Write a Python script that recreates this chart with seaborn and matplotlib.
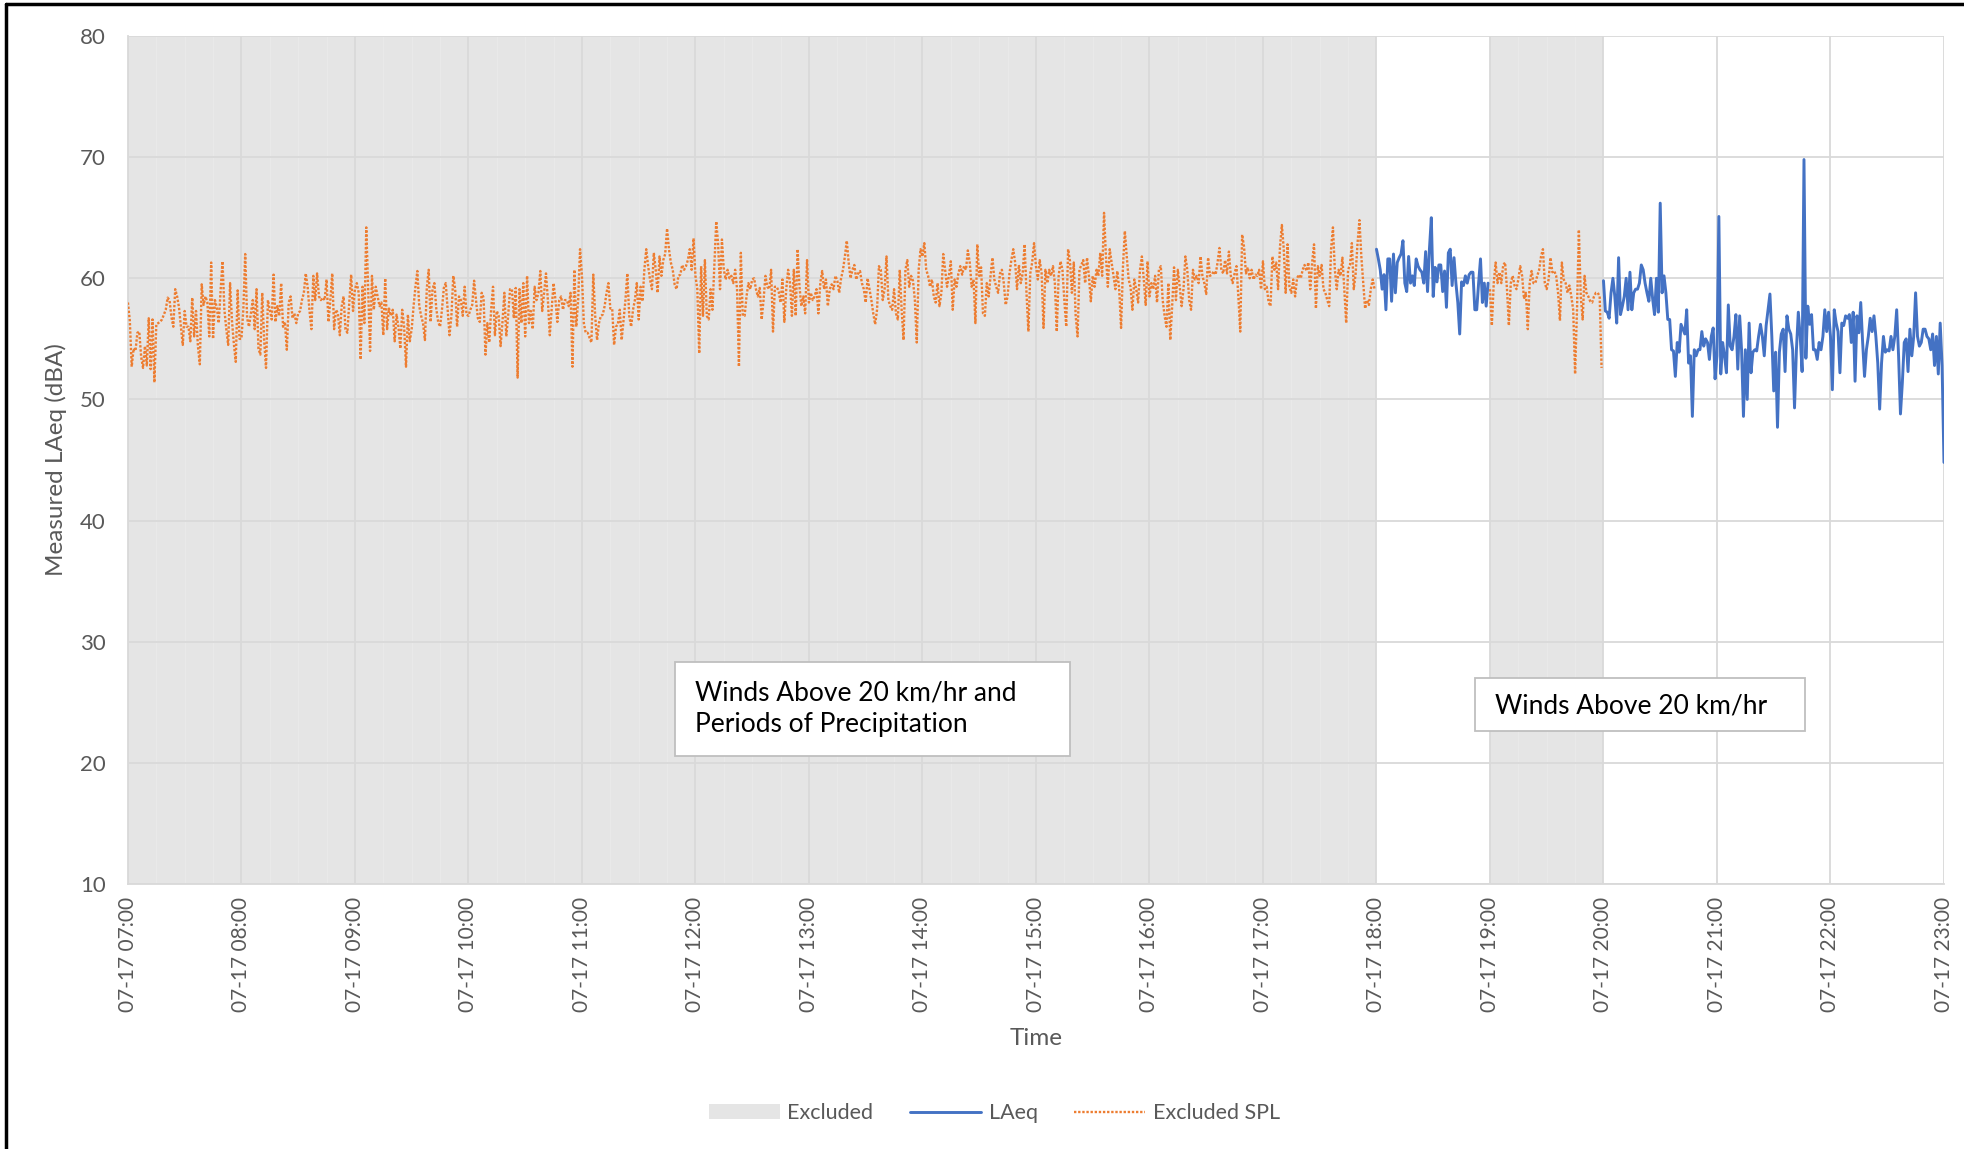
import pandas as pd
import matplotlib
matplotlib.use("Agg")
import matplotlib.pyplot as plt
import matplotlib.dates as mdates
from matplotlib.patches import Patch, Rectangle
from matplotlib.lines import Line2D
import seaborn as sns

sns.set_theme(style="white")
plt.rcParams['font.family'] = ['Lato', 'DejaVu Sans']

DAY = "2023-07-17"

# ---- Excluded SPL (orange dotted), 1-minute values ----
spl_07 = [58.0, 56.5, 52.7, 54.2, 54.0, 55.5, 55.6, 53.5, 52.6, 54.4,
          52.8, 56.7, 52.5, 56.6, 51.4, 56.2, 56.3, 56.4, 56.6, 57.0,
          57.4, 58.4, 58.2, 56.8, 56.0, 59.1, 58.5, 57.6, 56.0, 54.5,
          57.3, 56.0, 56.0, 54.8, 58.4, 55.2, 57.3, 54.4, 52.9, 59.5,
          57.8, 58.5, 58.0, 55.2, 61.3, 55.0, 58.2, 57.6, 56.3, 59.0,
          61.4, 57.4, 55.8, 54.5, 59.6, 56.5, 54.6, 53.1, 59.0, 55.0]
spl_08 = [55.0, 57.4, 62.0, 56.7, 56.0, 57.1, 58.2, 55.8, 59.1, 54.2,
          53.7, 58.8, 54.9, 52.6, 58.2, 57.4, 56.6, 60.3, 56.4, 57.7,
          56.9, 59.6, 56.0, 56.4, 54.1, 58.0, 58.5, 56.7, 57.1, 56.3,
          57.1, 57.3, 58.2, 58.8, 60.4, 59.3, 57.3, 55.8, 60.2, 58.2,
          60.4, 58.5, 58.2, 58.4, 58.2, 59.9, 56.4, 58.2, 60.4, 55.8,
          57.4, 57.1, 55.3, 57.7, 58.5, 55.8, 55.5, 58.0, 60.3, 57.3]
spl_09 = [59.1, 59.6, 58.8, 53.3, 59.3, 56.3, 64.2, 59.1, 54.0, 60.2,
          57.4, 59.3, 58.5, 57.7, 58.0, 55.3, 60.0, 55.8, 57.5, 56.9,
          57.4, 54.8, 57.0, 56.0, 54.2, 57.4, 56.0, 52.7, 57.0, 54.8,
          55.8, 57.7, 59.3, 60.6, 57.7, 56.9, 56.3, 54.9, 59.2, 60.7,
          56.4, 59.1, 59.6, 57.5, 56.4, 56.0, 57.4, 59.2, 59.6, 57.4,
          55.3, 56.9, 60.2, 59.1, 56.0, 58.5, 58.2, 56.9, 59.3, 57.0]
spl_10 = [56.9, 57.4, 57.8, 59.8, 58.2, 56.7, 56.4, 58.8, 58.4, 53.7,
          56.3, 54.7, 57.4, 59.3, 55.3, 57.3, 56.9, 54.4, 56.4, 58.8,
          55.2, 56.9, 59.1, 59.1, 56.7, 59.2, 51.8, 59.1, 56.3, 59.6,
          55.2, 60.2, 56.3, 57.3, 55.8, 59.3, 58.2, 58.8, 60.6, 57.3,
          58.8, 60.4, 58.2, 55.3, 57.4, 59.6, 58.2, 56.4, 58.2, 58.5,
          57.4, 58.2, 58.2, 57.7, 58.8, 52.7, 60.7, 56.0, 58.2, 62.4]
spl_11 = [60.2, 56.3, 55.5, 55.5, 55.1, 54.7, 60.3, 56.9, 54.9, 56.3,
          56.9, 57.0, 57.7, 58.8, 59.6, 57.5, 57.5, 54.5, 56.0, 56.2,
          57.4, 54.9, 56.6, 58.2, 60.4, 56.9, 56.0, 57.4, 58.2, 59.6,
          56.6, 59.3, 58.1, 60.7, 62.4, 61.0, 59.9, 59.1, 62.1, 60.7,
          58.8, 61.8, 60.2, 61.5, 62.0, 64.1, 62.4, 61.3, 60.7, 59.5,
          59.1, 60.2, 60.3, 61.1, 60.7, 61.0, 61.5, 62.4, 60.7, 63.3]
spl_12 = [60.2, 59.1, 53.8, 61.0, 56.9, 61.5, 56.9, 56.6, 59.1, 57.4,
          61.0, 64.7, 62.8, 59.1, 63.2, 60.7, 59.9, 60.7, 60.0, 60.2,
          59.6, 60.7, 59.1, 52.7, 62.1, 56.9, 56.9, 58.5, 59.6, 59.1,
          59.9, 60.0, 59.1, 58.5, 59.2, 56.6, 58.2, 60.2, 59.3, 59.1,
          60.7, 55.6, 59.3, 59.3, 58.9, 58.0, 59.9, 56.4, 59.1, 60.7,
          59.6, 56.9, 60.7, 56.9, 62.4, 59.3, 57.7, 58.5, 57.1, 61.5]
spl_13 = [58.0, 58.8, 58.2, 58.5, 59.1, 57.1, 59.6, 60.6, 59.1, 59.9,
          57.7, 59.1, 59.5, 59.1, 60.2, 59.8, 58.8, 60.0, 60.7, 61.8,
          63.1, 61.3, 60.0, 60.7, 61.1, 59.9, 60.4, 60.6, 59.6, 59.1,
          58.0, 60.0, 59.1, 58.2, 57.1, 56.2, 57.4, 61.0, 60.7, 58.2,
          59.1, 61.8, 58.2, 57.7, 57.4, 59.1, 57.1, 56.6, 60.7, 57.4,
          54.9, 60.7, 61.5, 59.3, 60.2, 59.8, 58.2, 54.7, 60.7, 62.4]
spl_14 = [61.8, 62.9, 60.7, 60.2, 59.3, 59.9, 58.5, 58.0, 59.6, 57.7,
          58.8, 62.0, 60.7, 59.3, 60.2, 61.4, 57.4, 59.9, 59.3, 60.4,
          61.0, 60.3, 61.0, 60.7, 62.3, 61.3, 59.3, 59.9, 56.3, 62.8,
          60.2, 60.9, 57.1, 56.9, 59.6, 58.5, 60.2, 61.7, 59.9, 59.3,
          58.8, 60.4, 60.7, 59.6, 57.8, 58.5, 60.4, 61.5, 62.4, 61.3,
          59.1, 61.1, 59.6, 60.4, 62.8, 58.8, 55.6, 60.4, 61.3, 62.9]
spl_15 = [61.0, 59.9, 61.5, 60.4, 55.9, 60.7, 59.6, 60.7, 60.2, 61.0,
          59.6, 55.6, 60.2, 61.4, 60.7, 58.2, 56.0, 62.4, 61.4, 58.8,
          61.3, 56.9, 55.2, 60.7, 61.1, 61.5, 59.6, 61.7, 60.2, 58.1,
          60.2, 59.3, 60.7, 60.2, 62.1, 60.2, 65.4, 61.8, 59.3, 62.4,
          61.3, 60.2, 59.1, 60.6, 59.1, 55.9, 61.0, 63.9, 61.8, 59.9,
          59.3, 57.4, 59.9, 59.1, 58.0, 60.7, 61.8, 59.9, 57.8, 61.4]
spl_16 = [58.5, 59.6, 59.1, 60.2, 58.0, 60.7, 61.0, 58.2, 56.9, 56.0,
          59.6, 54.9, 57.7, 60.9, 58.2, 60.7, 59.3, 57.7, 59.1, 61.8,
          60.7, 58.2, 57.4, 60.7, 59.9, 60.2, 59.6, 61.8, 60.2, 59.6,
          58.7, 61.7, 60.2, 60.3, 60.6, 60.3, 61.3, 62.5, 60.7, 60.4,
          61.5, 60.4, 62.2, 60.2, 59.6, 60.4, 61.0, 58.5, 55.6, 63.6,
          62.6, 60.4, 60.9, 60.0, 60.7, 59.9, 60.3, 60.2, 60.7, 59.1]
spl_17 = [61.4, 59.1, 59.3, 58.0, 57.7, 61.8, 60.7, 61.3, 59.1, 62.6,
          64.4, 62.4, 58.8, 62.8, 59.3, 58.8, 59.9, 58.5, 60.0, 60.3,
          60.0, 60.7, 61.1, 60.6, 61.3, 59.1, 61.3, 62.8, 57.5, 61.0,
          60.2, 61.1, 59.1, 58.8, 58.2, 57.7, 62.4, 64.2, 60.7, 59.1,
          60.7, 60.2, 61.7, 59.1, 56.3, 60.7, 61.1, 62.9, 59.1, 60.4,
          62.9, 64.8, 61.8, 59.6, 57.5, 58.2, 57.8, 59.1, 59.9, 59.1]
spl_19 = [59.1, 56.1, 59.6, 61.3, 59.6, 60.5, 59.6, 61.1, 61.3, 59.1,
          56.1, 59.6, 60.2, 59.4, 59.1, 59.9, 61.0, 60.2, 58.3, 58.8,
          55.8, 59.6, 60.6, 59.6, 59.6, 60.2, 60.7, 61.8, 62.4, 59.6,
          59.1, 59.9, 61.7, 60.5, 60.6, 60.2, 58.8, 56.5, 61.3, 59.9,
          59.6, 58.8, 59.4, 58.5, 57.4, 52.1, 57.4, 64.0, 58.5, 56.6,
          60.2, 58.8, 58.5, 58.1, 58.0, 58.5, 58.8, 58.8, 58.5, 52.6]

# ---- LAeq (blue solid), 1-minute values ----
laeq_18 = [62.4, 61.6, 60.7, 59.1, 60.3, 57.4, 61.6, 61.6, 58.1, 62.0,
           58.8, 61.3, 61.7, 62.0, 63.1, 59.6, 58.9, 61.8, 59.6, 60.2,
           59.4, 61.6, 61.0, 60.7, 60.5, 59.6, 62.2, 58.9, 62.4, 65.0,
           58.5, 60.9, 59.7, 61.1, 61.1, 58.9, 60.6, 57.6, 62.1, 62.4,
           59.4, 61.7, 59.6, 58.0, 55.4, 59.7, 59.4, 60.2, 59.6, 60.3,
           60.5, 60.5, 57.4, 57.4, 59.6, 61.6, 58.0, 59.6, 57.7, 59.6]
laeq_20 = [59.8, 57.3, 57.2, 56.7, 58.8, 60.0, 58.5, 56.3, 61.7, 57.0,
           57.7, 58.5, 60.0, 57.4, 60.5, 57.4, 58.8, 59.1, 59.1, 59.6,
           61.1, 60.7, 59.6, 58.8, 58.1, 60.0, 58.3, 57.0, 60.0, 57.2,
           66.2, 58.8, 60.2, 58.8, 56.6, 56.6, 54.1, 54.0, 51.9, 54.7,
           53.9, 56.2, 55.8, 55.4, 57.4, 53.0, 53.6, 48.6, 54.1, 53.6,
           54.1, 54.1, 55.6, 54.4, 55.0, 54.7, 53.3, 55.2, 55.9, 51.7]
laeq_21 = [53.6, 65.1, 52.1, 54.7, 53.6, 52.2, 57.8, 54.4, 54.1, 55.2,
           57.0, 52.5, 56.9, 54.1, 48.6, 54.1, 50.0, 56.3, 52.2, 53.9,
           54.1, 54.0, 55.2, 56.2, 55.2, 53.6, 56.1, 57.4, 58.7, 55.2,
           50.7, 53.9, 47.7, 53.9, 55.4, 55.8, 52.3, 56.9, 55.8, 55.4,
           54.1, 49.3, 54.1, 57.2, 55.2, 52.3, 69.8, 53.4, 57.7, 56.2,
           57.0, 54.1, 54.1, 53.3, 54.7, 54.1, 55.2, 57.4, 55.6, 57.2]
laeq_22 = [55.2, 50.8, 57.4, 56.3, 55.6, 52.2, 56.3, 56.1, 56.9, 56.7,
           57.0, 54.7, 57.2, 51.5, 56.9, 55.5, 58.0, 54.7, 51.9, 54.1,
           55.2, 56.7, 55.6, 56.9, 55.2, 53.0, 49.2, 53.0, 55.2, 53.9,
           54.1, 54.0, 55.2, 54.1, 55.2, 57.4, 53.6, 48.8, 51.4, 54.7,
           55.0, 52.3, 55.8, 53.6, 55.2, 58.8, 55.2, 54.4, 54.7, 55.8,
           55.8, 55.2, 55.0, 54.1, 55.4, 52.8, 55.2, 52.1, 56.3, 52.8]
laeq_23 = [44.8]

excluded_windows = [("07:00", "18:00"), ("19:00", "20:00")]
y_ticks = [10, 20, 30, 40, 50, 60, 70, 80]
annotations = ["Winds Above 20 km/hr and\nPeriods of Precipitation",
               "Winds Above 20 km/hr"]

BLUE = "#4472C4"
ORANGE = "#ED7D31"
GREY = "#E5E5E5"
GRID = "#D9D9D9"
TXT = "#595959"


def segment(start, values, name):
    t = pd.date_range(f"{DAY} {start}", periods=len(values), freq="min")
    return pd.DataFrame({"time": t, "dBA": values, "series": name})


segments = [
    (segment("07:00", spl_07 + spl_08 + spl_09 + spl_10 + spl_11 + spl_12 +
             spl_13 + spl_14 + spl_15 + spl_16 + spl_17, "Excluded SPL"), ORANGE, (0, (1, 0.75))),
    (segment("19:00", spl_19, "Excluded SPL"), ORANGE, (0, (1, 0.75))),
    (segment("18:00", laeq_18, "LAeq"), BLUE, "-"),
    (segment("20:00", laeq_20 + laeq_21 + laeq_22 + laeq_23, "LAeq"), BLUE, "-"),
]

fig = plt.figure(figsize=(19.65, 11.49), dpi=100)
ax = fig.add_axes([0.0651, 0.2306, 0.9242, 0.7381])

# excluded periods
for s, e in excluded_windows:
    t0 = pd.Timestamp(f"{DAY} {s}")
    t1 = pd.Timestamp(f"{DAY} {e}")
    ax.axvspan(t0, t1, color=GREY, lw=0, zorder=0)
    for q in pd.date_range(t0, t1, freq="15min")[1:-1]:
        if q.minute != 0:
            ax.axvline(q, color="#E9E9E9", lw=1.0, zorder=0.2)

for df, col, ls in segments:
    lw = 2.1 if ls == "-" else 1.7
    sns.lineplot(data=df, x="time", y="dBA", ax=ax, color=col, lw=lw,
                 linestyle=ls, estimator=None, zorder=3)

ax.set_xlim(pd.Timestamp(f"{DAY} 07:00"), pd.Timestamp(f"{DAY} 23:00"))
ax.set_ylim(10, 80)
ax.set_yticks(y_ticks)
ax.xaxis.set_major_locator(mdates.HourLocator())
ax.xaxis.set_major_formatter(mdates.DateFormatter("%m-%d %H:%M"))

ax.grid(True, color=GRID, lw=1.3)
ax.set_axisbelow(True)
for sp in ["top", "right"]:
    ax.spines[sp].set_visible(False)
for sp in ["left", "bottom"]:
    ax.spines[sp].set_color(GRID)
    ax.spines[sp].set_linewidth(1.3)

ax.tick_params(axis="both", length=0, labelcolor=TXT)
ax.tick_params(axis="x", pad=9, labelsize=15)
ax.tick_params(axis="y", pad=16, labelsize=16)
plt.setp(ax.get_xticklabels(), rotation=90, ha="center", va="top")

ax.set_xlabel("Time", fontsize=17.5, color=TXT)
ax.set_ylabel("Measured LAeq (dBA)", fontsize=17.5, color=TXT)
ax.xaxis.set_label_coords(0.5, -0.170)
ax.yaxis.set_label_coords(-0.0336, 0.5)

# text boxes
ax.add_patch(Rectangle((0.3012, 0.1509), 0.2175, 0.1108, transform=ax.transAxes,
                       facecolor="white", edgecolor="#BFBFBF", lw=1.3, zorder=5))
ax.text(0.3122, 0.2064, annotations[0], transform=ax.transAxes, fontsize=19,
        color="black", ha="left", va="center", linespacing=1.3, zorder=6)
ax.add_patch(Rectangle((0.7417, 0.1804), 0.1817, 0.0625, transform=ax.transAxes,
                       facecolor="white", edgecolor="#BFBFBF", lw=1.3, zorder=5))
ax.text(0.7528, 0.2099, annotations[1], transform=ax.transAxes, fontsize=19,
        color="black", ha="left", va="center", zorder=6)

handles = [Patch(facecolor=GREY, edgecolor="none", label="Excluded"),
           Line2D([], [], color=BLUE, lw=2.1, label="LAeq"),
           Line2D([], [], color=ORANGE, lw=1.7, linestyle=(0, (1, 0.75)), label="Excluded SPL")]
leg = fig.legend(handles=handles, loc="center", bbox_to_anchor=(0.506, 0.031), ncol=3,
                 frameon=False, fontsize=15.5, handlelength=3.3, handleheight=0.7,
                 handletextpad=0.35, columnspacing=1.7)
for t in leg.get_texts():
    t.set_color(TXT)

# outer border lines (top and left)
fig.add_artist(Line2D([0.003, 0.003], [0.0, 0.9965], transform=fig.transFigure,
                      color="black", lw=2.5))
fig.add_artist(Line2D([0.003, 1.0], [0.9965, 0.9965], transform=fig.transFigure,
                      color="black", lw=2.5))

fig.savefig("out.png", dpi=100)
